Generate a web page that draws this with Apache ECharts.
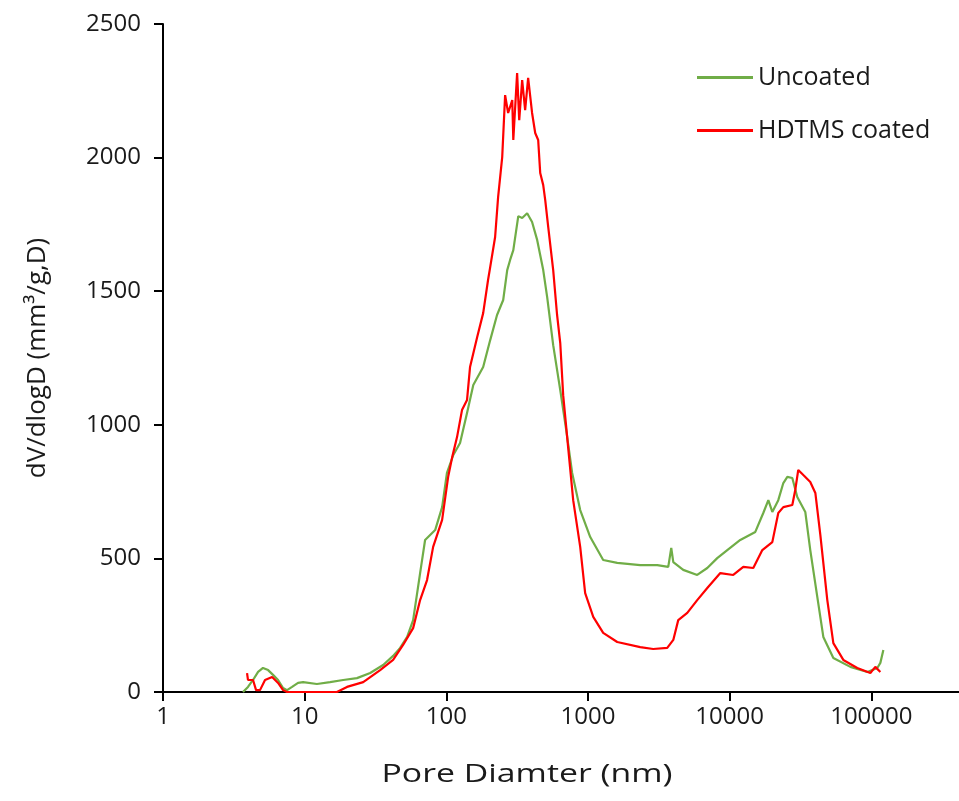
<!DOCTYPE html>
<html>
<head>
<meta charset="utf-8">
<script src="https://cdn.jsdelivr.net/npm/echarts@6/dist/echarts.min.js"></script>
<style>html,body{margin:0;padding:0;background:#fff;}#c{width:959px;height:801px;}</style>
</head>
<body>
<div id="c"></div>
<script>
// Pore diameter (nm) and dV/dlogD values
var uncoatedD = [3.67,3.98,4.32,4.69,5.08,5.52,5.98,6.49,7.04,7.51,8.15,8.98,9.75,12.2,15.1,18.7,23.4,29.0,35.8,42.1,47.2,52.9,58.3,65.3,70.8,83.4,93.4,101,112,125,140,155,182,204,228,252,269,282,297,322,343,372,403,438,483,515,568,637,702,773,881,1037,1280,1608,2337,3083,3685,3870,4000,4700,5900,6950,8170,9620,11880,15170,17270,18750,20000,22040,23920,25530,27680,30010,34180,37070,41570,45830,53930,71120,93700,110200,115800,121600];
var uncoatedV = [0,19,45,75,90,82,64,45,15,7,19,34,37,30,37,45,52,71,101,135,165,206,269,445,569,606,692,820,887,932,1044,1149,1216,1317,1411,1467,1579,1617,1654,1781,1774,1792,1759,1691,1579,1478,1298,1130,980,820,681,580,494,483,475,475,468,539,486,457,438,464,501,531,569,599,670,718,674,718,782,805,801,730,674,531,355,206,127,94,75,90,109,157];

var coatedD = [3.92,3.98,4.32,4.54,4.84,5.25,5.89,6.49,7.04,7.51,16.9,19.9,25.9,34.1,42.1,49.5,58.3,65.3,73.1,80.7,93.4,103,110,119,129,140,147,165,182,197,204,221,232,248,260,273,292,297,316,327,343,360,378,403,424,445,460,483,499,524,568,605,637,668,725,786,881,955,1089,1280,1608,2337,2885,3625,4000,4335,5020,5900,6950,8590,10600,12480,14680,17000,20000,22040,23920,27680,29040,30490,33110,37070,40250,43650,48890,53930,63430,79590,98400,106700,115800];
var coatedV = [71,45,45,7,7,45,56,34,7,0,0,19,37,82,120,176,239,344,419,543,644,805,879,954,1055,1093,1216,1328,1418,1542,1590,1703,1852,2002,2234,2167,2215,2066,2316,2140,2290,2178,2298,2167,2092,2066,1942,1897,1841,1740,1579,1411,1306,1111,913,718,543,370,281,221,187,168,161,165,195,269,296,344,389,445,438,468,464,531,561,670,692,700,756,831,812,786,745,588,344,183,120,90,71,94,75];

var seriesNames = ['Uncoated', 'HDTMS coated'];
var xTicks = [1, 10, 100, 1000, 10000, 100000];
var yTicks = [0, 500, 1000, 1500, 2000, 2500];

function pairs(d, v) { return d.map(function (x, i) { return [x, v[i]]; }); }

var FONT = '"Open Sans", "Noto Sans", sans-serif';
var chart = echarts.init(document.getElementById('c'), null, {renderer: 'canvas'});
chart.setOption({
  animation: false,
  backgroundColor: '#ffffff',
  grid: {left: 163, top: 24, height: 668, width: 850, containLabel: false, outerBoundsMode: 'none'},
  legend: {
    orient: 'vertical', left: 692, top: 60, itemWidth: 56, itemHeight: 3, itemGap: 28,
    icon: 'rect',
    data: seriesNames,
    textStyle: {fontFamily: FONT, fontSize: 25, color: '#1a1a1a'}
  },
  xAxis: {
    type: 'log', logBase: 10, min: 1, max: 1000000,
    axisLine: {lineStyle: {color: '#000', width: 2}},
    axisTick: {show: true, length: 9, lineStyle: {color: '#000', width: 2}},
    splitLine: {show: false},
    axisLabel: {
      fontFamily: FONT, fontSize: 24, color: '#1a1a1a', margin: 13,
      formatter: function (v) { return xTicks.indexOf(Math.round(v)) >= 0 ? String(Math.round(v)) : ''; }
    }
  },
  yAxis: {
    type: 'value', min: yTicks[0], max: yTicks[yTicks.length - 1], interval: 500,
    name: 'dV/dlogD (mm\u00B3/g,D)', nameLocation: 'middle', nameGap: 112,
    nameTextStyle: {fontFamily: FONT, fontSize: 26, color: '#1a1a1a'},
    axisLine: {show: true, lineStyle: {color: '#000', width: 2}},
    axisTick: {show: true, length: 9, lineStyle: {color: '#000', width: 2}},
    splitLine: {show: false},
    axisLabel: {fontFamily: FONT, fontSize: 24, color: '#1a1a1a', margin: 22,
      formatter: function (v) { return String(v); }}
  },
  graphic: [{
    type: 'text', x: 527, y: 775, scaleX: 1.3, scaleY: 1,
    style: {text: 'Pore Diamter (nm)', align: 'center', verticalAlign: 'middle',
      textAlign: 'center', textVerticalAlign: 'middle',
      font: '26px "Open Sans", "Noto Sans", sans-serif', fill: '#1a1a1a'}
  }],
  series: [
    {name: seriesNames[0], type: 'line', data: pairs(uncoatedD, uncoatedV), showSymbol: false, symbol: 'none',
     color: '#70AD47', lineStyle: {color: '#70AD47', width: 2.2}, z: 2},
    {name: seriesNames[1], type: 'line', data: pairs(coatedD, coatedV), showSymbol: false, symbol: 'none',
     color: '#FF0000', lineStyle: {color: '#FF0000', width: 2.2}, z: 3}
  ]
});
</script>
</body>
</html>
